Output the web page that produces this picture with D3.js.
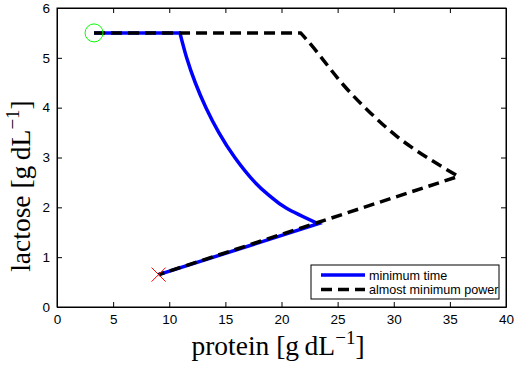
<!DOCTYPE html>
<html>
<head>
<meta charset="utf-8">
<script src="https://d3js.org/d3.v7.min.js"></script>
<style>
  body { margin: 0; background: #fff; }
  svg { display: block; }
</style>
</head>
<body>
<svg id="chart" width="516" height="365"></svg>
<script>
// minimum time trajectory: flat start, curved descent, straight return
var minTimeFlatProtein = [3.3, 10.95];
var minTimeFlatLactose = [5.5, 5.5];
var minTimeCurveProtein = [10.95, 11.55, 12.32, 13.27, 14.42, 15.84, 17.64, 19.0, 20.45, 23.27];
var minTimeCurveLactose = [5.5, 5.0, 4.5, 4.0, 3.5, 3.0, 2.5, 2.22, 1.98, 1.67];
var minTimeBackProtein = [23.27, 9.05];
var minTimeBackLactose = [1.67, 0.65];

// almost minimum power trajectory
var minPowerFlatProtein = [3.3, 21.7];
var minPowerFlatLactose = [5.5, 5.5];
var minPowerCurveProtein = [21.7, 22.3, 23.4, 25.5, 27.9, 30.3, 32.9, 35.75];
var minPowerCurveLactose = [5.5, 5.35, 5.05, 4.46, 3.9, 3.42, 3.01, 2.62];
var minPowerBackProtein = [35.75, 9.05];
var minPowerBackLactose = [2.62, 0.65];

var startPoint = [3.3, 5.5];
var endPoint = [9.05, 0.65];

var xTicks = [0, 5, 10, 15, 20, 25, 30, 35, 40];
var yTicks = [0, 1, 2, 3, 4, 5, 6];

var legendLabels = ["minimum time", "almost minimum power"];

var margin = {left: 57, top: 8, right: 10, bottom: 58};
var width = 516, height = 365;
var sansFont = "'Liberation Sans', Arial, sans-serif";
var serifFont = "'Liberation Serif', 'Times New Roman', serif";

var svg = d3.select("#chart");

var x = d3.scaleLinear().domain([0, 40]).range([margin.left, width - margin.right]);
var y = d3.scaleLinear().domain([0, 6]).range([height - margin.bottom, margin.top]);

// axes, ticks pointing inward like matlab
svg.append("g")
  .attr("transform", "translate(0," + y(0) + ")")
  .call(d3.axisBottom(x).tickValues(xTicks).tickFormat(d3.format("d")).tickSizeInner(-5).tickSizeOuter(0).tickPadding(7));

svg.append("g")
  .attr("transform", "translate(0," + y(6) + ")")
  .call(d3.axisTop(x).tickValues(xTicks).tickSizeInner(-5).tickSizeOuter(0).tickFormat(""));

svg.append("g")
  .attr("transform", "translate(" + x(0) + ",0)")
  .call(d3.axisLeft(y).tickValues(yTicks).tickFormat(d3.format("d")).tickSizeInner(-5).tickSizeOuter(0).tickPadding(7));

svg.append("g")
  .attr("transform", "translate(" + x(40) + ",0)")
  .call(d3.axisRight(y).tickValues(yTicks).tickSizeInner(-5).tickSizeOuter(0).tickFormat(""));

svg.selectAll(".domain").attr("stroke", "#000");
svg.selectAll(".tick line").attr("stroke", "#000");
svg.selectAll(".tick text")
  .style("font-family", sansFont)
  .style("font-size", "13.5px")
  .attr("fill", "#000");

svg.append("rect")
  .attr("x", x(0)).attr("y", y(6))
  .attr("width", x(40) - x(0)).attr("height", y(0) - y(6))
  .attr("fill", "none").attr("stroke", "#000").attr("stroke-width", 1);

// lines: straight pieces + smooth curved piece, joined into one subpath
var straight = d3.line()
  .x(function(d) { return x(d[0]); })
  .y(function(d) { return y(d[1]); });
var smooth = d3.line()
  .x(function(d) { return x(d[0]); })
  .y(function(d) { return y(d[1]); })
  .curve(d3.curveNatural);

function trajectory(fp, fl, cp, cl, bp, bl) {
  return straight(d3.zip(fp, fl))
    + smooth(d3.zip(cp, cl)).replace(/^M/, "L")
    + straight(d3.zip(bp, bl)).replace(/^M/, "L");
}

svg.append("path")
  .attr("d", trajectory(minTimeFlatProtein, minTimeFlatLactose, minTimeCurveProtein, minTimeCurveLactose, minTimeBackProtein, minTimeBackLactose))
  .attr("fill", "none")
  .attr("stroke", "#0000ff")
  .attr("stroke-width", 3.5);

svg.append("path")
  .attr("d", trajectory(minPowerFlatProtein, minPowerFlatLactose, minPowerCurveProtein, minPowerCurveLactose, minPowerBackProtein, minPowerBackLactose))
  .attr("fill", "none")
  .attr("stroke", "#000")
  .attr("stroke-width", 3.5)
  .attr("stroke-dasharray", "11,6");

// start / end markers
svg.append("circle")
  .attr("cx", x(startPoint[0])).attr("cy", y(startPoint[1]))
  .attr("r", 9)
  .attr("fill", "none").attr("stroke", "#00ff00").attr("stroke-width", 1);

var xs = 7, ex = x(endPoint[0]), ey = y(endPoint[1]);
svg.append("path")
  .attr("d", "M" + (ex - xs) + "," + (ey - xs) + "L" + (ex + xs) + "," + (ey + xs)
    + "M" + (ex - xs) + "," + (ey + xs) + "L" + (ex + xs) + "," + (ey - xs))
  .attr("stroke", "#ff0000").attr("stroke-width", 1).attr("fill", "none");

// legend
var lg = svg.append("g").attr("transform", "translate(311,265)");
lg.append("clipPath").attr("id", "lgclip")
  .append("rect").attr("width", 188).attr("height", 34);
lg.append("rect")
  .attr("width", 188).attr("height", 34)
  .attr("fill", "#fff");
var items = lg.append("g").attr("clip-path", "url(#lgclip)");
legendLabels.forEach(function(lbl, i) {
  var yy = 10 + i * 14.5;
  items.append("line")
    .attr("x1", 10).attr("x2", 54).attr("y1", yy).attr("y2", yy)
    .attr("stroke", i == 0 ? "#0000ff" : "#000")
    .attr("stroke-width", 3.5)
    .attr("stroke-dasharray", i == 0 ? null : "11,6");
  items.append("text")
    .attr("x", 58).attr("y", yy + 4.5)
    .style("font-family", sansFont)
    .style("font-size", "12.6px")
    .text(lbl);
});
lg.append("rect")
  .attr("width", 188).attr("height", 34)
  .attr("fill", "none").attr("stroke", "#000").attr("stroke-width", 1);

// axis titles
function unitLabel(sel, name) {
  sel.style("font-family", serifFont)
    .style("font-size", "27.5px")
    .attr("text-anchor", "middle");
  sel.append("tspan").text(name + " [g\u2009dL");
  sel.append("tspan").attr("dy", -11).style("font-size", "19px").text("\u22121");
  sel.append("tspan").attr("dy", 11).text("]");
}

svg.append("text")
  .attr("x", 278).attr("y", 355)
  .call(unitLabel, "protein");

svg.append("text")
  .attr("transform", "translate(30,186) rotate(-90)")
  .call(unitLabel, "lactose");
</script>
</body>
</html>
